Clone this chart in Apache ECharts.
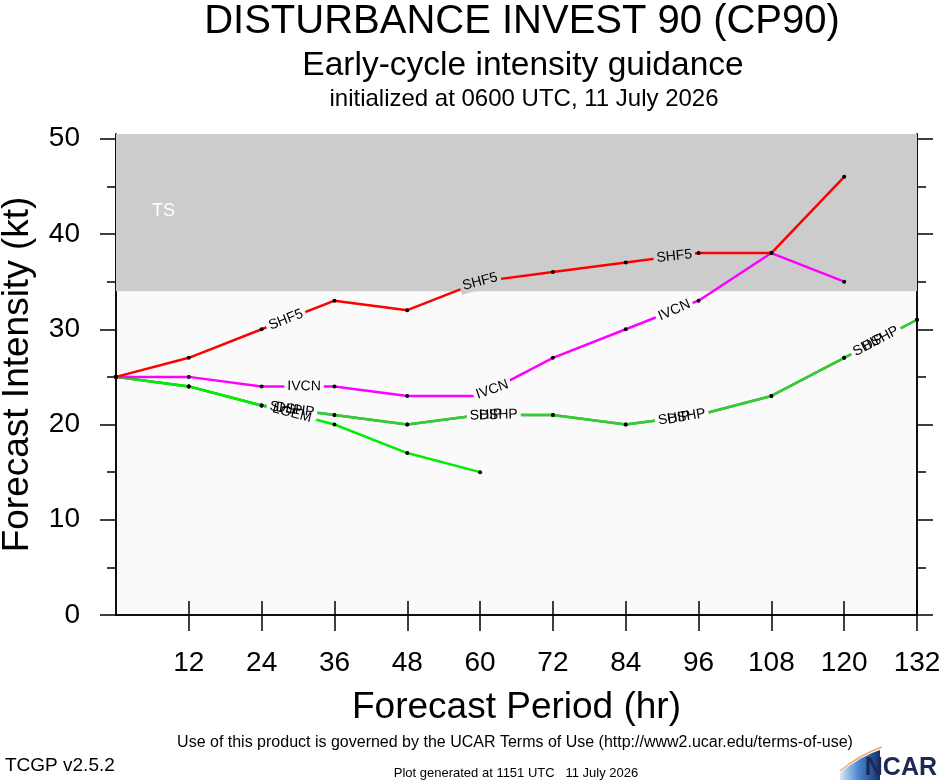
<!DOCTYPE html>
<html>
<head>
<meta charset="utf-8">
<script src="https://cdn.jsdelivr.net/npm/echarts@6/dist/echarts.min.js"></script>
<style>
  html, body { margin: 0; padding: 0; background: #fff; }
  #chart { width: 940px; height: 780px; }
</style>
</head>
<body>
<div id="chart"></div>
<script>
// forecast hours and model intensities (kt)
const hours = [0, 12, 24, 36, 48, 60, 72, 84, 96, 108, 120, 132];
const xTicks = [12, 24, 36, 48, 60, 72, 84, 96, 108, 120, 132];
const yMajor = [0, 10, 20, 30, 40, 50];
const yMinor = [5, 15, 25, 35, 45];
const shf5 = [25, 27, 30, 33, 32, 35, 36, 37, 38, 38, 46];
const ivcn = [25, 25, 24, 24, 23, 23, 27, 30, 33, 38, 35];
const ship = [25, 24, 22, 21, 20, 21, 21, 20, 21, 23, 27, 31];
const dshp = [25, 24, 22, 21, 20, 21, 21, 20, 21, 23, 27, 31];
const lgem = [25, 24, 22, 20, 17, 15];
const tsBand = [34, 50.5];   // tropical storm shading, kt

// where the in-line model names sit (hours along each line)
const MODELS = [
  { name: "SHIP", vals: ship, color: "#6E8A6E", at: [28, 61, 92, 124] },
  { name: "DSHP", vals: dshp, color: "#33CC33", at: [29.5, 63, 94, 126] },
  { name: "LGEM", vals: lgem, color: "#00EE00", at: [29] },
  { name: "IVCN", vals: ivcn, color: "#FF00FF", at: [31, 62, 92] },
  { name: "SHF5", vals: shf5, color: "#FF0000", at: [28, 60, 92] },
];

const FONT = "'Liberation Sans', Arial, Helvetica, sans-serif";
const chart = echarts.init(document.getElementById("chart"), null, { renderer: "canvas" });

const yAxisBase = (pos, ticks, len, labels) => ({
  type: "value", position: pos, min: 0, max: tsBand[1], interval: 5,
  axisLine: { show: true, lineStyle: { color: "#000", width: 1.5 } },
  axisTick: { show: true, customValues: ticks, length: len, lineStyle: { color: "#000", width: 1.5 } },
  axisLabel: labels
    ? { show: true, customValues: ticks, margin: 36, color: "#000", fontSize: 28, fontFamily: FONT }
    : { show: false },
  splitLine: { show: false },
});

const series = MODELS.map((m, i) => ({
  name: m.name, type: "line",
  data: m.vals.map((v, j) => [hours[j], v]),
  symbol: "circle", symbolSize: 4, showSymbol: true,
  itemStyle: { color: "#000" },
  lineStyle: { color: m.color, width: 2.5 },
  z: 3 + i, animation: false,
}));
series[0].markArea = {
  silent: true,
  itemStyle: { color: "#CCCCCC" },
  label: { show: true, position: [36, 68], color: "#fff", fontSize: 18, fontFamily: FONT },
  data: [[{ name: "TS", yAxis: tsBand[0] }, { yAxis: tsBand[1] }]],
};

chart.setOption({
  animation: false,
  backgroundColor: "#fff",
  title: [
    { text: "DISTURBANCE INVEST 90 (CP90)", left: 517, top: -3, textAlign: "center",
      textStyle: { fontSize: 40, fontWeight: "normal", color: "#000", fontFamily: FONT } },
    { text: "Early-cycle intensity guidance", left: 518, top: 44, textAlign: "center",
      textStyle: { fontSize: 33.5, fontWeight: "normal", color: "#000", fontFamily: FONT } },
    { text: "initialized at 0600 UTC, 11 July 2026", left: 519, top: 82, textAlign: "center",
      textStyle: { fontSize: 24, fontWeight: "normal", color: "#000", fontFamily: FONT } },
  ],
  grid: { left: 116, right: 23, top: 134, bottom: 165, show: true, backgroundColor: "#FAFAFA",
    borderWidth: 0, containLabel: false, outerBoundsMode: "none" },
  xAxis: [
    { type: "value", position: "bottom", min: 0, max: 132, interval: 12,
      name: "Forecast Period (hr)", nameLocation: "middle", nameGap: 74,
      nameTextStyle: { fontSize: 37, color: "#000", fontFamily: FONT },
      axisLine: { show: true, lineStyle: { color: "#000", width: 1.5 } },
      axisTick: { show: true, customValues: xTicks, length: 16, lineStyle: { color: "#000", width: 1.5 } },
      axisLabel: { customValues: xTicks, margin: 34, color: "#000", fontSize: 28, fontFamily: FONT },
      splitLine: { show: false } },
    { type: "value", position: "top", min: 0, max: 132, interval: 12,
      axisLine: { show: true, lineStyle: { color: "#000", width: 1.5 } },
      axisTick: { show: true, customValues: xTicks, length: 14, lineStyle: { color: "#000", width: 1.5 } },
      axisLabel: { show: false }, splitLine: { show: false } },
  ],
  yAxis: [
    Object.assign(yAxisBase("left", yMajor, 16, true), {
      name: "Forecast Intensity (kt)", nameLocation: "middle", nameGap: 80,
      nameTextStyle: { fontSize: 37, color: "#000", fontFamily: FONT } }),
    yAxisBase("left", yMinor, 9, false),
    yAxisBase("right", yMajor, 16, false),
    yAxisBase("right", yMinor, 9, false),
  ],
  series,
});

// model names written along their lines, breaking the line like the original
function lineLabels() {
  const bgs = [], texts = [];
  const valAt = (vals, h) => {
    const last = vals.length - 1;
    const hh = Math.max(0, Math.min(hours[last], h));
    const i = Math.min(last - 1, Math.floor(hh / 12));
    const t = (hh - hours[i]) / (hours[i + 1] - hours[i]);
    return vals[i] + t * (vals[i + 1] - vals[i]);
  };
  MODELS.forEach((m) => {
    m.at.forEach((h) => {
      const v = valAt(m.vals, h);
      const p = chart.convertToPixel({ gridIndex: 0 }, [h, v]);
      const a = chart.convertToPixel({ gridIndex: 0 }, [h - 6, valAt(m.vals, h - 6)]);
      const b = chart.convertToPixel({ gridIndex: 0 }, [h + 6, valAt(m.vals, h + 6)]);
      const rot = Math.atan2(a[1] - b[1], b[0] - a[0]);
      const bg = v > tsBand[0] ? "#CCCCCC" : "#FAFAFA";
      const base = { type: "text", x: p[0], y: p[1], rotation: rot, silent: true };
      bgs.push(Object.assign({}, base, { z: 50, style: { text: m.name, font: "14px " + FONT, fill: bg,
        align: "center", verticalAlign: "middle", backgroundColor: bg, padding: [1, 3] } }));
      texts.push(Object.assign({}, base, { z: 60, style: { text: m.name, font: "14px " + FONT, fill: "#000",
        align: "center", verticalAlign: "middle" } }));
    });
  });
  return bgs.concat(texts);
}

const footer = [
  { type: "text", x: 515, y: 743, style: { text: "Use of this product is governed by the UCAR Terms of Use (http://www2.ucar.edu/terms-of-use)",
    font: "16px " + FONT, fill: "#000", align: "center", verticalAlign: "middle" } },
  { type: "text", x: 5, y: 766, style: { text: "TCGP v2.5.2", font: "19px " + FONT, fill: "#000",
    align: "left", verticalAlign: "middle" } },
  { type: "text", x: 516, y: 773, style: { text: "Plot generated at 1151 UTC   11 July 2026", font: "13px " + FONT,
    fill: "#000", align: "center", verticalAlign: "middle" } },
  // NCAR logo: swoosh + wordmark
  { type: "polygon", shape: { points: [[840, 780], [840, 773], [849, 766], [860, 759], [872, 753], [880, 750], [880, 780]] },
    style: { fill: { type: "linear", x: 0, y: 0, x2: 1, y2: 0, colorStops: [
      { offset: 0, color: "#D6E8F6" }, { offset: 0.45, color: "#4B8AD0" }, { offset: 1, color: "#12306F" }] } } },
  { type: "polyline", shape: { points: [[840, 771], [849, 764], [860, 757], [872, 751], [882, 747]] },
    style: { stroke: "#F2A66A", lineWidth: 1.5, fill: null } },
  { type: "text", x: 937, y: 768, style: { text: "NCAR", font: "bold 25px " + FONT, fill: "#1B2A55",
    align: "right", verticalAlign: "middle" } },
];

chart.setOption({ graphic: { elements: footer.concat(lineLabels()) } });
</script>
</body>
</html>
